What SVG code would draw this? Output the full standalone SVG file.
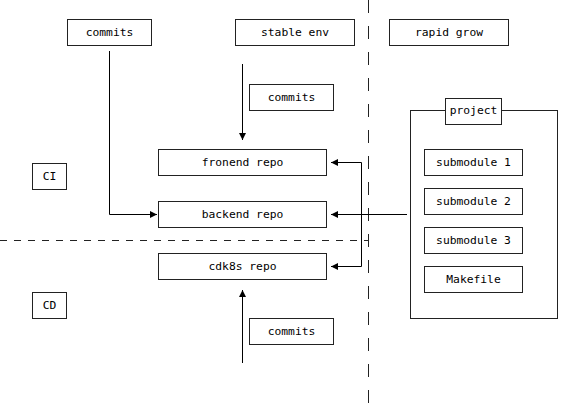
<svg xmlns="http://www.w3.org/2000/svg" width="561" height="404" viewBox="0 0 561 404">
<defs>
<style>
.box{fill:#fff;stroke:#222;stroke-width:1}
.t{font-family:"DejaVu Sans Mono","Liberation Mono",monospace;font-size:11.3px;fill:#000;text-anchor:middle;dominant-baseline:central}
.ln{fill:none;stroke:#000;stroke-width:1}
.dash{fill:none;stroke:#222;stroke-width:1}
</style>
<marker id="ah" markerUnits="userSpaceOnUse" markerWidth="7" markerHeight="7" refX="7" refY="3.5" orient="auto">
<path d="M0,0 L7,3.5 L0,7 z" fill="#000"/>
</marker>
</defs>
<rect width="561" height="404" fill="#fff"/>
<g id="separators">
<line class="dash" x1="368.5" y1="0" x2="368.5" y2="404" stroke-dasharray="13 13"/>
<line class="dash" x1="0" y1="240.5" x2="368" y2="240.5" stroke-dasharray="7 7"/>
</g>
<g id="connectors">
<polyline class="ln" points="109.5,51 109.5,214.5 157,214.5" marker-end="url(#ah)"/>
<line class="ln" x1="242.5" y1="64" x2="242.5" y2="140" marker-end="url(#ah)"/>
<line class="ln" x1="242.5" y1="363" x2="242.5" y2="290" marker-end="url(#ah)"/>
<line class="ln" x1="407" y1="214.5" x2="331" y2="214.5" marker-end="url(#ah)"/>
<polyline class="ln" points="361.5,162.5 361.5,266.5"/>
<line class="ln" x1="361.5" y1="162.5" x2="331" y2="162.5" marker-end="url(#ah)"/>
<line class="ln" x1="361.5" y1="266.5" x2="331" y2="266.5" marker-end="url(#ah)"/>
</g>
<g id="commits-top"><rect class="box" x="67.5" y="19.5" width="84" height="26"/><text class="t" x="109.5" y="32">commits</text></g>
<g id="stable-env"><rect class="box" x="235.5" y="19.5" width="119" height="26"/><text class="t" x="295" y="32">stable env</text></g>
<g id="rapid-grow"><rect class="box" x="389.5" y="19.5" width="119" height="26"/><text class="t" x="449" y="32">rapid grow</text></g>
<g id="commits-mid"><rect class="box" x="249.5" y="84.5" width="84" height="26"/><text class="t" x="291.5" y="97">commits</text></g>
<g id="commits-bottom"><rect class="box" x="249.5" y="318.5" width="84" height="26"/><text class="t" x="291.5" y="331">commits</text></g>
<g id="ci"><rect class="box" x="32.5" y="163.5" width="34" height="26"/><text class="t" x="49.5" y="176">CI</text></g>
<g id="cd"><rect class="box" x="32.5" y="292.5" width="34" height="26"/><text class="t" x="49.5" y="305">CD</text></g>
<g id="fronend-repo"><rect class="box" x="158.5" y="149.5" width="168" height="26"/><text class="t" x="242.5" y="162">fronend repo</text></g>
<g id="backend-repo"><rect class="box" x="158.5" y="201.5" width="168" height="26"/><text class="t" x="242.5" y="214">backend repo</text></g>
<g id="cdk8s-repo"><rect class="box" x="158.5" y="253.5" width="168" height="26"/><text class="t" x="242.5" y="266">cdk8s repo</text></g>
<g id="project">
<rect class="box" x="410.5" y="110.5" width="147" height="208"/>
<rect class="box" x="445.5" y="98.5" width="56" height="26"/>
<text class="t" x="473.5" y="110">project</text>
</g>
<g id="submodule-1"><rect class="box" x="424.5" y="149.5" width="98" height="26"/><text class="t" x="473.5" y="162">submodule 1</text></g>
<g id="submodule-2"><rect class="box" x="424.5" y="188.5" width="98" height="26"/><text class="t" x="473.5" y="201">submodule 2</text></g>
<g id="submodule-3"><rect class="box" x="424.5" y="227.5" width="98" height="26"/><text class="t" x="473.5" y="240">submodule 3</text></g>
<g id="makefile"><rect class="box" x="424.5" y="266.5" width="98" height="26"/><text class="t" x="473.5" y="279">Makefile</text></g>
</svg>
